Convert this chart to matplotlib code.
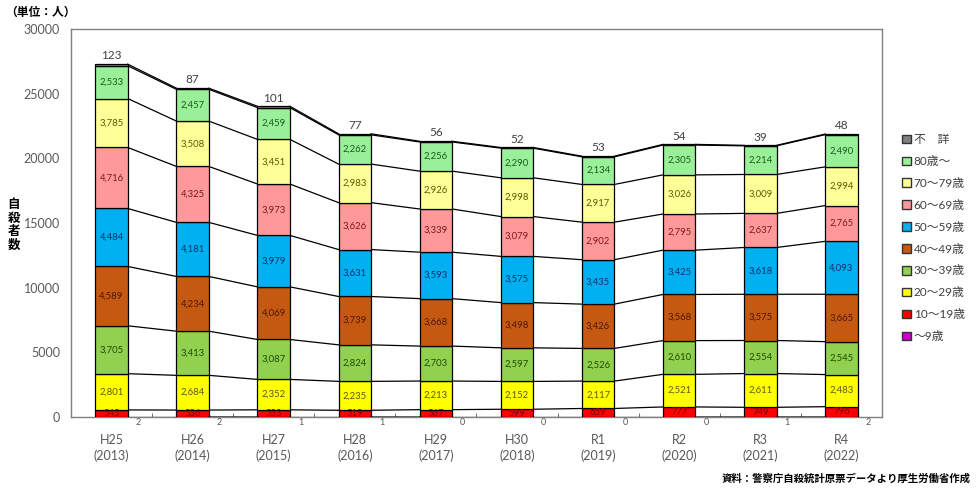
import matplotlib
matplotlib.use("Agg")
import matplotlib.pyplot as plt
from matplotlib.patches import Patch
import numpy as np

plt.rcParams['font.family'] = ['Lato', 'Noto Sans CJK JP', 'DejaVu Sans']

years = ["H25\n(2013)", "H26\n(2014)", "H27\n(2015)", "H28\n(2016)", "H29\n(2017)",
         "H30\n(2018)", "R1\n(2019)", "R2\n(2020)", "R3\n(2021)", "R4\n(2022)"]

age_0_9 = [2, 2, 1, 1, 0, 0, 0, 0, 1, 2]
age_10_19 = [545, 536, 553, 519, 567, 599, 659, 777, 749, 796]
age_20_29 = [2801, 2684, 2352, 2235, 2213, 2152, 2117, 2521, 2611, 2483]
age_30_39 = [3705, 3413, 3087, 2824, 2703, 2597, 2526, 2610, 2554, 2545]
age_40_49 = [4589, 4234, 4069, 3739, 3668, 3498, 3426, 3568, 3575, 3665]
age_50_59 = [4484, 4181, 3979, 3631, 3593, 3575, 3435, 3425, 3618, 4093]
age_60_69 = [4716, 4325, 3973, 3626, 3339, 3079, 2902, 2795, 2637, 2765]
age_70_79 = [3785, 3508, 3451, 2983, 2926, 2998, 2917, 3026, 3009, 2994]
age_80_up = [2533, 2457, 2459, 2262, 2256, 2290, 2134, 2305, 2214, 2490]
unknown = [123, 87, 101, 77, 56, 52, 53, 54, 39, 48]

series = [
    ("～9歳", age_0_9, "#CC00CC", "#660066"),
    ("10～19歳", age_10_19, "#FF0000", "#7a0000"),
    ("20～29歳", age_20_29, "#FFFF00", "#5a5a00"),
    ("30～39歳", age_30_39, "#92D050", "#1e4d00"),
    ("40～49歳", age_40_49, "#C65911", "#4a1800"),
    ("50～59歳", age_50_59, "#00B0F0", "#003070"),
    ("60～69歳", age_60_69, "#FF9999", "#7a1a1a"),
    ("70～79歳", age_70_79, "#FFFF99", "#5a5a00"),
    ("80歳～", age_80_up, "#99F099", "#1a5c1a"),
    ("不　詳", unknown, "#808080", "#404040"),
]

fig = plt.figure(figsize=(9.76, 4.88), dpi=100)
ax = fig.add_axes([0.0727, 0.1455, 0.831, 0.795])

x = np.arange(len(years))
w = 0.4
bottom = np.zeros(len(years))
handles = []
for idx, (name, vals, col, tcol) in enumerate(series):
    v = np.array(vals, dtype=float)
    ax.bar(x, v, w, bottom=bottom, color=col, edgecolor="black", linewidth=0.9, zorder=3)
    top = bottom + v
    # connector lines
    for i in range(len(x) - 1):
        ax.plot([x[i] + w / 2, x[i + 1] - w / 2], [top[i], top[i + 1]],
                color="black", linewidth=0.9, zorder=2)
    # labels
    for i in range(len(x)):
        if name == "～9歳":
            ax.annotate(str(vals[i]), xy=(x[i] + w / 2 + 0.13, 0), xytext=(0, -4),
                        textcoords="offset points", ha="center", va="center",
                        fontsize=6.5, color="#595959", annotation_clip=False)
        elif name == "不　詳":
            ax.annotate(str(vals[i]), xy=(x[i], top[i]), xytext=(0, 2),
                        textcoords="offset points", ha="center", va="bottom",
                        fontsize=8.5, color="#404040")
        else:
            ax.text(x[i], bottom[i] + v[i] / 2, f"{vals[i]:,}", ha="center", va="center",
                    fontsize=6.8, color=tcol, zorder=4)
    bottom = top
    handles.append(Patch(facecolor=col, edgecolor="#333333", linewidth=1.0, label=name))

ax.set_xlim(-0.5, 9.5)
ax.set_ylim(0, 30000)
ax.set_yticks(np.arange(0, 30001, 5000))
ax.set_yticklabels([str(t) for t in range(0, 30001, 5000)])
ax.set_xticks(x)
ax.set_xticklabels(years, linespacing=1.35)
ax.set_xticks(x[:-1] + 0.5, minor=True)
ax.tick_params(axis="x", which="major", length=0, pad=12, labelsize=9, labelcolor="#595959")
ax.tick_params(axis="x", which="minor", length=3, color="#595959", direction="in")
ax.tick_params(axis="y", length=0, pad=8, labelsize=9, labelcolor="#595959")
for s in ax.spines.values():
    s.set_color("#808080")
    s.set_linewidth(1.0)

leg = ax.legend(handles=handles[::-1], loc="upper left", bbox_to_anchor=(0.924, 0.725),
                bbox_transform=fig.transFigure, frameon=False, fontsize=8.5,
                handlelength=0.75, handleheight=0.75, handletextpad=0.25,
                labelspacing=0.92, borderaxespad=0, borderpad=0)
for t in leg.get_texts():
    t.set_color("#404040")

fig.text(0.005, 0.975, "（単位：人）", fontsize=8.5, fontweight="bold", ha="left", va="center")
fig.text(0.014, 0.54, "自\n殺\n者\n数", fontsize=9, fontweight="bold", ha="center", va="center",
         linespacing=1.15)
fig.text(0.995, 0.02, "資料：警察庁自殺統計原票データより厚生労働省作成", fontsize=7.5,
         fontweight="bold", ha="right", va="center")

fig.savefig("out.png", dpi=100)
